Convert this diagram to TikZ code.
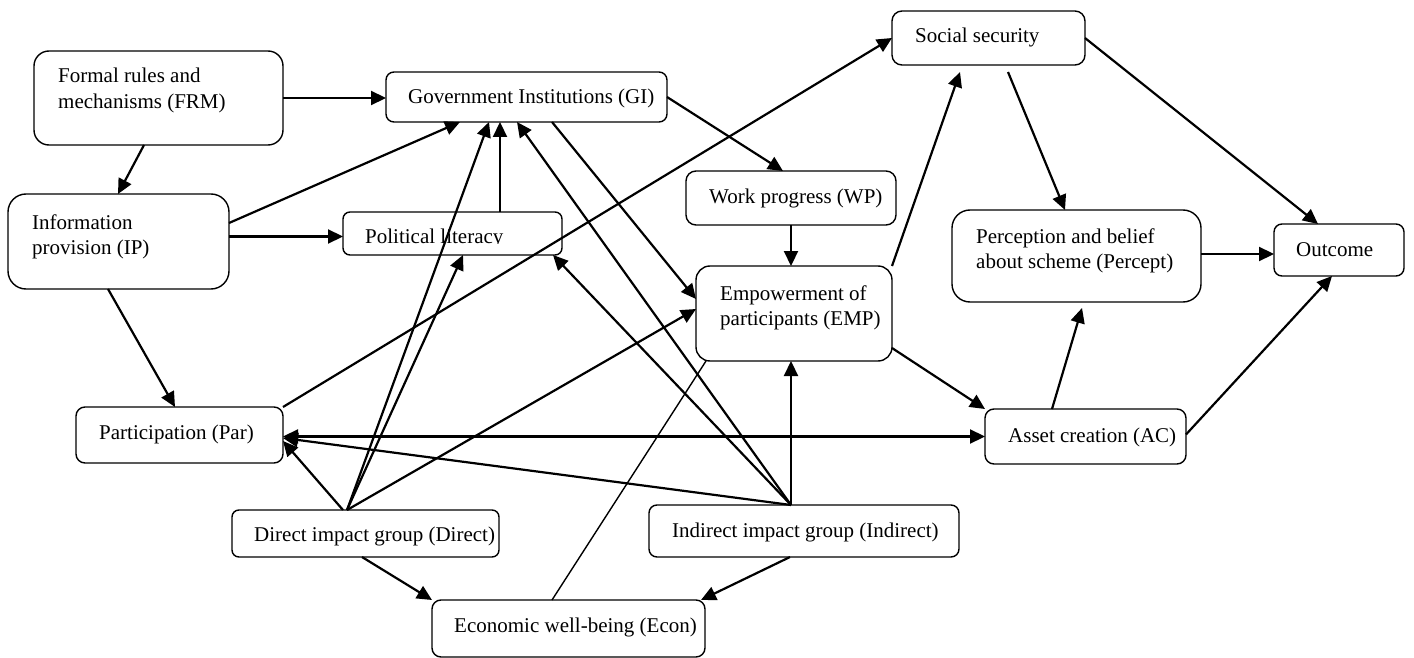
\documentclass[tikz,border=0pt]{standalone}
\usepackage{fontspec}
\setmainfont{Liberation Serif}
\usetikzlibrary{arrows.meta,calc}
\begin{document}
\begin{tikzpicture}[x=1pt,y=-1pt,
  box/.style={draw,line width=1.4pt,outer sep=0pt,inner sep=0pt},
  lbl/.style={anchor=base west,inner sep=0pt,font=\fontsize{21}{25}\selectfont},
  tip/.tip={Triangle[length=15pt,width=14pt]},
  arr/.style={line width=2.2pt,-tip},
  dbl/.style={line width=2.2pt,tip-tip},
  plain/.style={line width=1.4pt}]
\useasboundingbox (0,0) rectangle (1414,658);

% boxes
\node[box,rounded corners=15pt,minimum width=249pt,minimum height=94pt] (frm) at (158.5,98) {};
\node[box,rounded corners=8pt,minimum width=281pt,minimum height=50pt] (gi) at (526.5,97) {};
\node[box,rounded corners=18pt,minimum width=221pt,minimum height=95pt] (ip) at (118.5,241.5) {};
\node[box,rounded corners=7pt,minimum width=219pt,minimum height=43pt] (pl) at (452.5,233.5) {};
\node[box,rounded corners=10pt,minimum width=210pt,minimum height=54pt] (wp) at (791,198) {};
\node[box,rounded corners=14pt,minimum width=196pt,minimum height=95pt] (emp) at (794,313.5) {};
\node[box,rounded corners=10pt,minimum width=193pt,minimum height=54pt] (ss) at (988.5,38) {};
\node[box,rounded corners=18pt,minimum width=249pt,minimum height=92pt] (per) at (1076.5,256) {};
\node[box,rounded corners=8pt,minimum width=130pt,minimum height=52pt] (out) at (1339,250) {};
\node[box,rounded corners=9pt,minimum width=201pt,minimum height=55pt] (ac) at (1085.5,436.5) {};
\node[box,rounded corners=9pt,minimum width=207pt,minimum height=56pt] (par) at (179.5,435) {};
\node[box,rounded corners=7pt,minimum width=267pt,minimum height=47pt] (dir) at (365.5,533.5) {};
\node[box,rounded corners=8pt,minimum width=310pt,minimum height=52pt] (ind) at (804,531) {};
\node[box,rounded corners=9pt,minimum width=273pt,minimum height=57pt] (eco) at (568.5,628.5) {};

% labels
\node[lbl] (frmA) at (58,83) {Formal rules and};
\node[lbl] (frmB) at (58,109) {mechanisms (FRM)};
\node[lbl] (giA) at (408,104) {Government Institutions (GI)};
\node[lbl] (ipA) at (32,229) {Information};
\node[lbl] (ipB) at (32,254) {provision (IP)};
\begin{scope}
  \clip (344,213) rectangle (561,243);
  \node[lbl] (plA) at (365,243.5) {Political literacy};
\end{scope}
\node[lbl] (wpA) at (709,203) {Work progress (WP)};
\node[lbl] (empA) at (720,300) {Empowerment of};
\node[lbl] (empB) at (720,325) {participants (EMP)};
\node[lbl] (ssA) at (915,43) {Social security};
\node[lbl] (perA) at (976,243) {Perception and belief};
\node[lbl] (perB) at (976,268) {about scheme (Percept)};
\node[lbl] (outA) at (1296,256) {Outcome};
\node[lbl] (acA) at (1008,442) {Asset creation (AC)};
\node[lbl] (parA) at (99,439) {Participation (Par)};
\node[lbl] (dirA) at (254,541) {Direct impact group (Direct)};
\node[lbl] (indA) at (672,537) {Indirect impact group (Indirect)};
\node[lbl] (ecoA) at (454,632) {Economic well-being (Econ)};

% anchor points on the box borders
\coordinate (dirTop) at ($(dir.north west)+(115,0)$);
\coordinate (indTop) at ($(ind.north west)+(142,0)$);
\coordinate (plTop) at ($(pl.north west)+(157,0)$);
\coordinate (perR) at ($(per.east)+(0,-2)$);
\coordinate (ipR) at ($(ip.east)+(0,-5)$);

% connectors
\draw[arr] (frm.east) -- (frm.east -| gi.west);
\draw[arr] ($(frm.south west)+(110,0)$) -- ($(ip.north west)+(110,0)$);
\draw[arr] ($(ip.north east)+(0,29)$) -- ($(gi.south west)+(74,0)$);
\draw[arr] (ipR) -- (ipR -| pl.west);
\draw[arr] ($(ip.south west)+(100,0)$) -- ($(par.north west)+(99,0)$);
\draw[arr] (par.north east) -- (ss.west);
\draw[arr] (dirTop) -- ($(gi.south west)+(103,0)$);
\draw[arr] (dirTop) -- ($(pl.south west)+(120,0)$);
\draw[arr] (dirTop) -- ($(emp.west)+(0,-4.5)$);
\draw[arr] ($(dir.north west)+(111,0)$) -- ($(par.east)+(0,6)$);
\draw[arr] (plTop) -- (plTop |- gi.south);
\draw[arr] ($(gi.south west)+(166,0)$) -- ($(emp.north west)+(0,33)$);
\draw[arr] (indTop) -- ($(gi.south west)+(131,0)$);
\draw[arr] (indTop) -- ($(pl.south east)+(-9,0)$);
\draw[arr] (indTop) -- (indTop |- emp.south);
\draw[arr] (indTop) -- ($(par.east)+(0,3)$);
\draw[dbl] (par.east |- ac.west) -- (ac.west);
\draw[arr] ($(emp.south east)+(0,-13)$) -- (ac.north west);
\draw[arr] (emp.north east) -- ($(ss.south west)+(68,7)$);
\draw[arr] ($(ss.south west)+(116,7)$) -- ($(per.north west)+(113,0)$);
\draw[arr] (ss.east) -- ($(out.north west)+(44,0)$);
\draw[arr] (perR) -- (perR -| out.west);
\draw[arr] ($(ac.north west)+(67,0)$) -- ($(per.south west)+(130,6)$);
\draw[arr] ($(ac.east)+(0,-2)$) -- ($(out.south west)+(58,0)$);
\draw[arr] (gi.east) -- ($(wp.north west)+(97,0)$);
\draw[arr] (wp.south) -- (wp.south |- emp.north);
\draw[arr] ($(dir.south west)+(130,0)$) -- (eco.north west);
\draw[arr] ($(ind.south west)+(141,0)$) -- ($(eco.north east)+(-4,0)$);
\draw[plain] ($(eco.north west)+(120,0)$) -- ($(emp.south west)+(10,0)$);
\end{tikzpicture}
\end{document}
